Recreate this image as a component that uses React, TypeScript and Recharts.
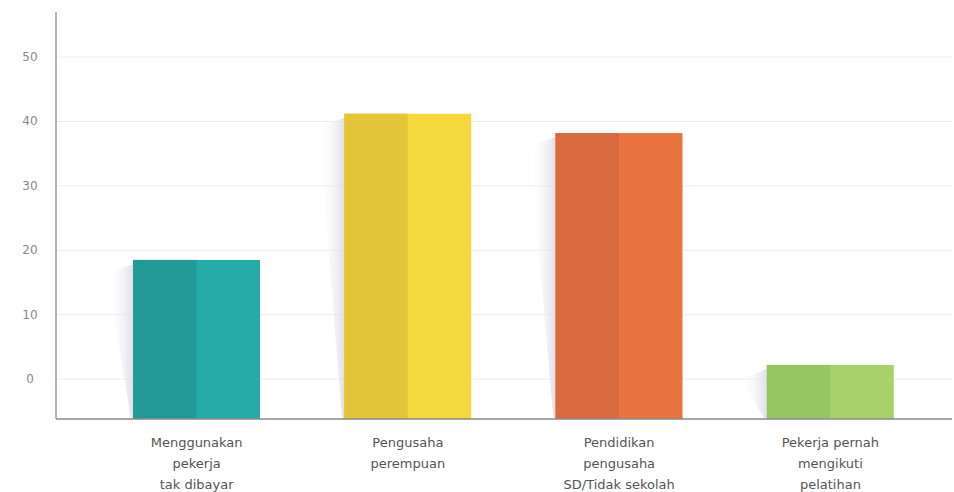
import { BarChart, Bar, XAxis, YAxis, CartesianGrid, Cell } from "recharts";

const categories = [
  "Menggunakan\npekerja\ntak dibayar",
  "Pengusaha\nperempuan",
  "Pendidikan\npengusaha\nSD/Tidak sekolah",
  "Pekerja pernah\nmengikuti\npelatihan",
];
const values = [18.5, 41.2, 38.2, 2.2];
const yTicks = [0, 10, 20, 30, 40, 50];
const colors = ["#27aba8", "#f5d83c", "#ea7440", "#a6d16b"];
const shades = ["#229b98", "#e3c537", "#d96a3f", "#97c562"];

const AXIS_MIN = -6.2;
const AXIS_MAX = 57;

const data = categories.map((name, i) => ({
  name,
  range: [AXIS_MIN, values[i]],
  idx: i,
}));

function ShadedBar(props: any) {
  const { x, y, width, height, payload } = props;
  const i = payload.idx;
  const half = width / 2;
  return (
    <g>
      <defs>
        <linearGradient id={`sh${i}`} x1="0" y1="0" x2="1" y2="0">
          <stop offset="0%" stopColor="#ffffff" stopOpacity={0} />
          <stop offset="100%" stopColor="#d9d6e4" stopOpacity={0.8} />
        </linearGradient>
      </defs>
      <polygon
        points={`${x - 26},${y + 14} ${x},${y + 4} ${x},${y + height} ${x - 2},${y + height}`}
        fill={`url(#sh${i})`}
      />
      <rect x={x} y={y} width={width} height={height} fill={colors[i]} />
      <rect x={x} y={y} width={half} height={height} fill={shades[i]} />
    </g>
  );
}

function CatTick(props: any) {
  const { x, y, payload } = props;
  const lines = String(payload.value).split("\n");
  return (
    <g transform={`translate(${x},${y})`}>
      {lines.map((l, k) => (
        <text
          key={k}
          x={0}
          y={20 + k * 21}
          textAnchor="middle"
          fontSize={13}
          fill="#555"
          fontFamily="DejaVu Sans, sans-serif"
        >
          {l}
        </text>
      ))}
    </g>
  );
}

function ValTick(props: any) {
  const { y, payload } = props;
  return (
    <text
      x={30}
      y={y + 4}
      textAnchor="middle"
      fontSize={12}
      fill="#888"
      fontFamily="DejaVu Sans, sans-serif"
    >
      {payload.value}
    </text>
  );
}

export default function App() {
  return (
    <div style={{ position: "absolute", left: 0, top: 0, background: "#fff" }}>
      <BarChart
        width={954}
        height={492}
        data={data}
        margin={{ top: 12, right: 2, left: 0, bottom: 0 }}
        barSize={127}
      >
        <CartesianGrid vertical={false} stroke="#ececec" horizontalValues={yTicks} />
        <XAxis
          dataKey="name"
          tick={<CatTick />}
          tickLine={false}
          axisLine={{ stroke: "#8a8a8a", strokeWidth: 1.5 }}
          height={73}
          padding={{ left: 35, right: 16 }}
          interval={0}
        />
        <YAxis
          type="number"
          domain={[AXIS_MIN, AXIS_MAX]}
          ticks={yTicks}
          tick={<ValTick />}
          tickLine={false}
          axisLine={{ stroke: "#9a9a9a", strokeWidth: 1.5 }}
          width={56}
          allowDataOverflow
        />
        <Bar dataKey="range" shape={<ShadedBar />} isAnimationActive={false}>
          {data.map((d, i) => (
            <Cell key={i} fill={colors[i]} />
          ))}
        </Bar>
      </BarChart>
    </div>
  );
}
